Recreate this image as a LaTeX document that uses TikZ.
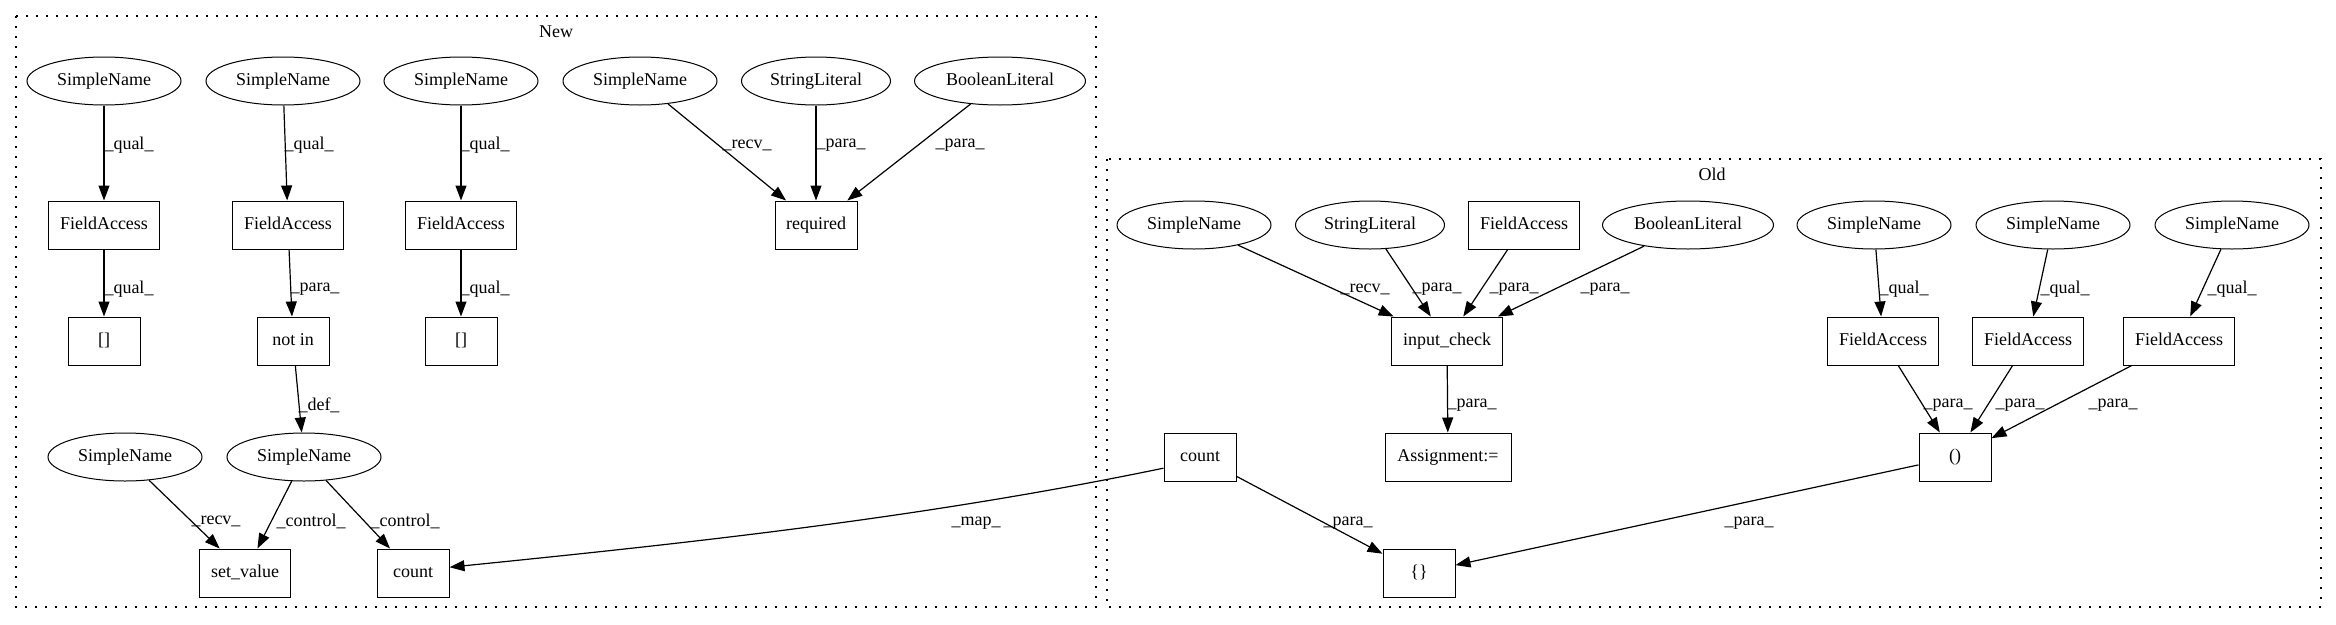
\documentclass[tikz,border=0pt]{standalone}
\usepackage{fontspec}
\setmainfont{Liberation Serif}
\usetikzlibrary{arrows.meta,shapes.geometric}
\begin{document}
\begin{tikzpicture}[x=1pt,y=-1pt,
  font=\fontsize{18}{21}\selectfont,
  ell/.style={draw, ellipse, line width=1pt, minimum width=154pt, minimum height=48pt, inner sep=0pt, text height=12pt, text depth=4pt},
  box/.style={draw, rectangle, line width=1pt, minimum width=72pt, minimum height=48pt, inner sep=0pt, text height=12pt, text depth=4pt},
  edge/.style={line width=1.2pt, -{Triangle[length=15pt,width=11pt]}},
  lbl/.style={inner sep=0pt, yshift=-6pt},
  cluster/.style={line width=1.2pt, dash pattern=on 2pt off 8pt}]
\useasboundingbox (0,0) rectangle (2336,624);
\fill[white] (0,0) rectangle (2336,624);

% clusters
\draw[cluster] (16,16) rectangle (1096,607);
\node[lbl, yshift=6pt] (newlbl) at (556,32) {New};
\draw[cluster] (1107,159) rectangle (2321,607);
\node[lbl, yshift=6pt] (oldlbl) at (1712,174) {Old};

% ---------- New ----------
\node[ell] (sn1) at (104,81) {SimpleName};
\node[ell] (sn2) at (283,81) {SimpleName};
\node[ell] (sn3) at (461,81) {SimpleName};
\node[ell] (sn4) at (640,81) {SimpleName};
\node[ell, minimum width=149pt] (sl1) at (816,81) {StringLiteral};
\node[ell, minimum width=171pt] (bl1) at (1000,81) {BooleanLiteral};
\node[box, minimum width=111pt] (fa1) at (104,225) {FieldAccess};
\node[box, minimum width=111pt] (fa2) at (288,225) {FieldAccess};
\node[box, minimum width=111pt] (fa3) at (461,225) {FieldAccess};
\node[box, minimum width=82pt] (req) at (816,225) {required};
\node[box] (br1) at (104,341) {[]};
\node[box] (notin) at (293,341) {not in};
\node[box] (br2) at (461,341) {[]};
\node[ell] (sn5) at (125,457) {SimpleName};
\node[ell] (sn6) at (304,457) {SimpleName};
\node[box, minimum width=91pt] (setv) at (245,573) {set\_value};
\node[box] (cnt1) at (413,573) {count};

\draw[edge] (sn1) -- (fa1);
\node[lbl] at (129,139) {\_qual\_};
\draw[edge] (sn2) -- (fa2);
\node[lbl] at (309,139) {\_qual\_};
\draw[edge] (sn3) -- (fa3);
\node[lbl] at (485,139) {\_qual\_};
\draw[edge] (fa1) -- (br1);
\node[lbl] at (129,283) {\_qual\_};
\draw[edge] (fa2) -- (notin);
\node[lbl] at (315,283) {\_para\_};
\draw[edge] (fa3) -- (br2);
\node[lbl] at (485,283) {\_qual\_};
\draw[edge] (notin) -- (sn6);
\node[lbl] at (319,399) {\_def\_};
\draw[edge] (sn5) -- (setv);
\node[lbl] at (216,515) {\_recv\_};
\draw[edge] (sn6) -- (setv);
\node[lbl] at (311,515) {\_control\_};
\draw[edge] (sn6) -- (cnt1);
\node[lbl] at (405,515) {\_control\_};
\draw[edge] (sn4) -- (req);
\node[lbl] at (747,139) {\_recv\_};
\draw[edge] (sl1) -- (req);
\node[lbl] at (841,139) {\_para\_};
\draw[edge] (bl1) -- (req);
\node[lbl] at (960,139) {\_para\_};

% ---------- Old ----------
\node[ell] (osn1) at (1194,225) {SimpleName};
\node[ell, minimum width=149pt] (osl) at (1370,225) {StringLiteral};
\node[box, minimum width=111pt] (ofa) at (1524,225) {FieldAccess};
\node[ell, minimum width=171pt] (obl) at (1688,225) {BooleanLiteral};
\node[ell] (osn2) at (1874,225) {SimpleName};
\node[ell] (osn3) at (2053,225) {SimpleName};
\node[ell] (osn4) at (2232,225) {SimpleName};
\node[box, minimum width=111pt] (ic) at (1447,341) {input\_check};
\node[box, minimum width=111pt] (ofa1) at (1883,341) {FieldAccess};
\node[box, minimum width=111pt] (ofa2) at (2028,341) {FieldAccess};
\node[box, minimum width=111pt] (ofa3) at (2179,341) {FieldAccess};
\node[box, minimum width=126pt] (asg) at (1448,457) {Assignment:=};
\node[box] (ocnt) at (1200,457) {count};
\node[box] (par) at (1955,457) {()};
\node[box] (brace) at (1419,573) {\{\}};

\draw[edge] (osn1) -- (ic);
\node[lbl] at (1365,283) {\_recv\_};
\draw[edge] (osl) -- (ic);
\node[lbl] at (1437,283) {\_para\_};
\draw[edge] (ofa) -- (ic);
\node[lbl] at (1514,283) {\_para\_};
\draw[edge] (obl) -- (ic);
\node[lbl] at (1605,283) {\_para\_};
\draw[edge] (ic) -- (asg);
\node[lbl] at (1472,399) {\_para\_};
\draw[edge] (osn2) -- (ofa1);
\node[lbl] at (1904,283) {\_qual\_};
\draw[edge] (osn3) -- (ofa2);
\node[lbl] at (2065,283) {\_qual\_};
\draw[edge] (osn4) -- (ofa3);
\node[lbl] at (2232,283) {\_qual\_};
\draw[edge] (ofa1) -- (par);
\node[lbl] at (1948,399) {\_para\_};
\draw[edge] (ofa2) -- (par);
\node[lbl] at (2020,399) {\_para\_};
\draw[edge] (ofa3) -- (par);
\node[lbl] at (2113,399) {\_para\_};
\draw[edge] (ocnt) -- (brace);
\node[lbl] at (1348,517) {\_para\_};
\draw[edge] (par) -- (brace);
\node[lbl] at (1749,517) {\_para\_};

% mapping
\draw[edge] (ocnt.197) .. controls (923,518) and (689,543) .. (cnt1.9);
\node[lbl] at (976,517) {\_map\_};
\end{tikzpicture}
\end{document}
